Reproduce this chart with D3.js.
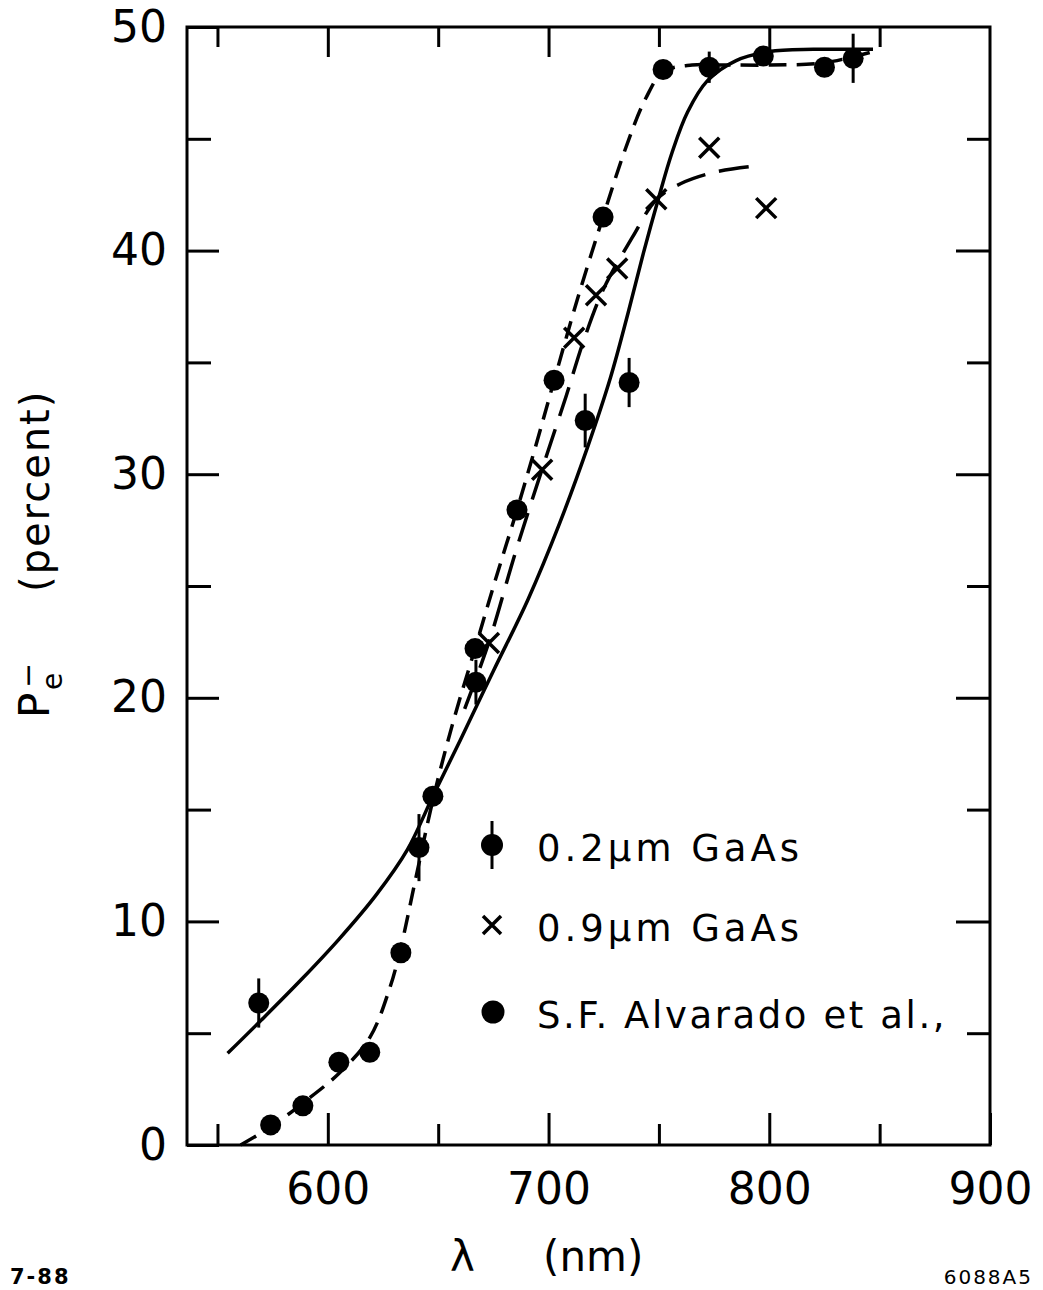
<!DOCTYPE html>
<html>
<head>
<meta charset="utf-8">
<script src="https://cdn.jsdelivr.net/npm/d3@7"></script>
<style>
  html, body { margin: 0; padding: 0; background: #fff; }
  svg { display: block; font-family: "DejaVu Sans", sans-serif; }
</style>
</head>
<body>
<svg id="chart" width="1043" height="1290"></svg>
<script>
// ---- data ----
const xMajorTicks = [600, 700, 800, 900];
const xMinorTicks = [550, 650, 750, 850];
const yMajorTicks = [0, 10, 20, 30, 40, 50];
const yMinorTicks = [5, 15, 25, 35, 45];

// 0.2 µm GaAs (filled circles with error bars)
const thinX   = [568.7, 641.3, 667.1, 716.6, 736.5, 772.8, 838.0];
const thinY   = [6.35, 13.3, 20.7, 32.4, 34.1, 48.2, 48.6];
const thinErr = [1.1, 1.5, 1.0, 1.2, 1.1, 0.7, 1.1];

// 0.9 µm GaAs (crosses)
const thickX = [673.0, 697.1, 711.6, 721.5, 731.1, 748.8, 772.8, 798.6];
const thickY = [22.45, 30.2, 36.1, 38.0, 39.2, 42.3, 44.6, 41.9];

// S.F. Alvarado et al. (filled circles)
const alvX = [574.1, 588.7, 605.0, 619.0, 633.1, 647.6, 666.7, 685.7, 702.5, 724.7, 751.9, 797.3, 825.0];
const alvY = [0.9, 1.75, 3.7, 4.15, 8.6, 15.6, 22.2, 28.4, 34.2, 41.5, 48.1, 48.7, 48.2];

// solid curve
const solidX = [554.6, 570, 588, 605, 622, 636, 647.6, 660, 675, 690.7, 705, 718, 728, 736, 743, 749.7, 756, 763, 772, 785, 800, 820, 847];
const solidY = [4.1, 5.6, 7.4, 9.2, 11.2, 13.2, 15.6, 18.1, 21.2, 24.4, 27.8, 31.3, 34.3, 37.2, 39.9, 42.3, 44.4, 46.2, 47.6, 48.5, 48.9, 49.0, 49.0];

// long-dashed curve (0.9 µm)
const longX = [662, 673, 685, 697, 708, 716, 725, 738, 749, 760, 775, 791];
const longY = [19.5, 22.5, 26.5, 30.2, 33.5, 36.0, 38.3, 40.6, 42.3, 43.0, 43.5, 43.75];

// short-dashed curve (Alvarado)
const shortX = [560.5, 574, 589, 605, 619, 628, 633, 640, 648, 657, 667, 676, 686, 694, 702, 713, 725, 735, 744, 752, 765, 780, 800, 825, 847];
const shortY = [0, 0.8, 1.9, 3.2, 4.8, 7.0, 8.8, 12.0, 15.6, 19.0, 22.3, 25.3, 28.5, 31.2, 34.0, 37.8, 41.6, 44.6, 46.8, 48.0, 48.3, 48.3, 48.3, 48.4, 48.9];

const legendLabels = ["0.2\u00B5m GaAs", "0.9\u00B5m GaAs", "S.F. Alvarado et al.,"];

// ---- layout ----
const svg = d3.select("#chart");
const L = 187, R = 990, T = 27, B = 1145;
const x = d3.scaleLinear().domain([536.2, 900]).range([L, R]);
const y = d3.scaleLinear().domain([0, 50]).range([B, T]);

const ink = "#000";

// frame
svg.append("rect").attr("x", L).attr("y", T).attr("width", R - L).attr("height", B - T)
  .attr("fill", "none").attr("stroke", ink).attr("stroke-width", 3);

function styleAxis(g) {
  g.select(".domain").remove();
  g.selectAll(".tick line").attr("stroke", ink).attr("stroke-width", 3);
}

// bottom axis
svg.append("g").attr("transform", `translate(0,${B})`)
  .call(d3.axisBottom(x).tickValues(xMajorTicks).tickSize(-32).tickPadding(28).tickFormat(d3.format("d")))
  .call(styleAxis)
  .call(g => g.selectAll("text").attr("font-size", 44).attr("fill", ink).attr("font-family", "DejaVu Sans"));
svg.append("g").attr("transform", `translate(0,${B})`)
  .call(d3.axisBottom(x).tickValues(xMinorTicks).tickSize(-21).tickFormat(""))
  .call(styleAxis);
// top axis
svg.append("g").attr("transform", `translate(0,${T})`)
  .call(d3.axisTop(x).tickValues(xMajorTicks.filter(v => v < 900)).tickSize(-30).tickFormat(""))
  .call(styleAxis);
svg.append("g").attr("transform", `translate(0,${T})`)
  .call(d3.axisTop(x).tickValues(xMinorTicks).tickSize(-20).tickFormat(""))
  .call(styleAxis);
// left axis
svg.append("g").attr("transform", `translate(${L},0)`)
  .call(d3.axisLeft(y).tickValues(yMajorTicks).tickSize(-32).tickPadding(20).tickFormat(d3.format("d")))
  .call(styleAxis)
  .call(g => g.selectAll("text").attr("font-size", 44).attr("fill", ink).attr("font-family", "DejaVu Sans"));
svg.append("g").attr("transform", `translate(${L},0)`)
  .call(d3.axisLeft(y).tickValues(yMinorTicks).tickSize(-24).tickFormat(""))
  .call(styleAxis);
// right axis
svg.append("g").attr("transform", `translate(${R},0)`)
  .call(d3.axisRight(y).tickValues(yMajorTicks.filter(v => v > 0 && v < 50)).tickSize(-34).tickFormat(""))
  .call(styleAxis);
svg.append("g").attr("transform", `translate(${R},0)`)
  .call(d3.axisRight(y).tickValues(yMinorTicks).tickSize(-23).tickFormat(""))
  .call(styleAxis);

// curves
const lineGen = d3.line().x(d => x(d[0])).y(d => y(d[1])).curve(d3.curveCatmullRom.alpha(0.5));
const plot = svg.append("g");
plot.append("path").datum(d3.zip(solidX, solidY)).attr("d", lineGen)
  .attr("fill", "none").attr("stroke", ink).attr("stroke-width", 3.5);
plot.append("path").datum(d3.zip(longX, longY)).attr("d", lineGen)
  .attr("fill", "none").attr("stroke", ink).attr("stroke-width", 3.5)
  .attr("stroke-dasharray", "30,14");
plot.append("path").datum(d3.zip(shortX, shortY)).attr("d", lineGen)
  .attr("fill", "none").attr("stroke", ink).attr("stroke-width", 3.5)
  .attr("stroke-dasharray", "18,10");

// Alvarado points
plot.selectAll(".alv").data(d3.zip(alvX, alvY)).join("circle")
  .attr("cx", d => x(d[0])).attr("cy", d => y(d[1])).attr("r", 10.5).attr("fill", ink);

// 0.2 µm points with error bars
const thin = plot.selectAll(".thin").data(d3.zip(thinX, thinY, thinErr)).join("g");
thin.append("line")
  .attr("x1", d => x(d[0])).attr("x2", d => x(d[0]))
  .attr("y1", d => y(d[1] - d[2])).attr("y2", d => y(d[1] + d[2]))
  .attr("stroke", ink).attr("stroke-width", 3);
thin.append("circle").attr("cx", d => x(d[0])).attr("cy", d => y(d[1])).attr("r", 10.5).attr("fill", ink);

// 0.9 µm crosses
const cs = 10;
plot.selectAll(".thick").data(d3.zip(thickX, thickY)).join("path")
  .attr("d", d => {
    const cx = x(d[0]), cy = y(d[1]);
    return `M${cx - cs},${cy - cs}L${cx + cs},${cy + cs}M${cx - cs},${cy + cs}L${cx + cs},${cy - cs}`;
  })
  .attr("stroke", ink).attr("stroke-width", 3.5).attr("fill", "none");

// legend
const legY = [845, 925, 1012];
const lg = svg.append("g");
lg.append("line").attr("x1", 492).attr("x2", 492).attr("y1", legY[0] - 24).attr("y2", legY[0] + 24)
  .attr("stroke", ink).attr("stroke-width", 3);
lg.append("circle").attr("cx", 492).attr("cy", legY[0]).attr("r", 11).attr("fill", ink);
lg.append("path").attr("d", `M${492 - 9},${legY[1] - 9}L${492 + 9},${legY[1] + 9}M${492 - 9},${legY[1] + 9}L${492 + 9},${legY[1] - 9}`)
  .attr("stroke", ink).attr("stroke-width", 3.5);
lg.append("circle").attr("cx", 493).attr("cy", legY[2]).attr("r", 11.5).attr("fill", ink);
lg.selectAll("text.leg").data(legendLabels).join("text")
  .attr("x", 537).attr("y", (d, i) => legY[i] + 16)
  .attr("font-size", 37).attr("letter-spacing", (d, i) => i < 2 ? 4 : 2.6).attr("fill", ink)
  .text(d => d);

// axis titles
const xt = svg.append("text").attr("y", 1271).attr("font-size", 42).attr("fill", ink);
xt.append("tspan").attr("x", 450).text("\u03BB");
xt.append("tspan").attr("x", 543).text("(nm)");

const yt = svg.append("g").attr("transform", "rotate(-90)");
yt.append("text").attr("x", -718).attr("y", 49).attr("font-size", 42).attr("fill", ink).text("P");
yt.append("text").attr("x", -690).attr("y", 62).attr("font-size", 28).attr("fill", ink).text("e");
yt.append("text").attr("x", -688).attr("y", 38).attr("font-size", 30).attr("fill", ink).text("\u2212");
yt.append("text").attr("x", -592).attr("y", 49).attr("font-size", 40).attr("letter-spacing", 2).attr("fill", ink).text("(percent)");

// corner notes
svg.append("text").attr("x", 10).attr("y", 1284).attr("font-size", 21).attr("font-weight", "bold")
  .attr("letter-spacing", 2).attr("fill", ink).text("7-88");
svg.append("text").attr("x", 1033).attr("y", 1284).attr("text-anchor", "end").attr("font-size", 20)
  .attr("letter-spacing", 2).attr("fill", ink).text("6088A5");
</script>
</body>
</html>
